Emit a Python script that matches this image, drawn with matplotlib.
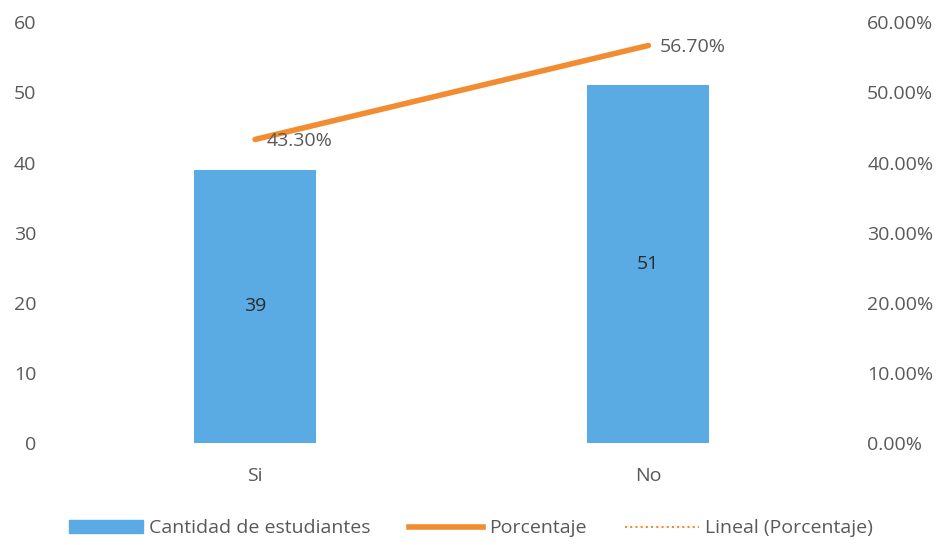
import matplotlib.pyplot as plt
import numpy as np
from matplotlib.lines import Line2D
from matplotlib.patches import Patch
from matplotlib.ticker import PercentFormatter

plt.rcParams['font.family'] = ['Open Sans', 'DejaVu Sans']

categorias = ['Si', 'No']
cantidad = [39, 51]
porcentaje = [43.3, 56.7]

azul = '#5aabe3'
naranja = '#f28c30'
gris = '#595959'

fig = plt.figure(figsize=(9.42, 5.45), dpi=100)
ax = fig.add_axes([0.062, 0.187, 0.835, 0.772])
x = np.arange(len(categorias))

ax.bar(x, cantidad, width=0.31, color=azul, zorder=2)
for xi, v in zip(x, cantidad):
    ax.text(xi, v / 2, str(v), ha='center', va='center', fontsize=14, color='#2b2b2b')

ax.set_xlim(-0.5, 1.5)
ax.set_ylim(0, 60)
ax.set_yticks(range(0, 61, 10))
ax.set_xticks(x)
ax.set_xticklabels(categorias)

ax2 = ax.twinx()
ax2.plot(x, porcentaje, color=naranja, lw=4, solid_capstyle='round', zorder=3)
# linea de tendencia (coincide con la serie al tener dos puntos)
coef = np.polyfit(x, porcentaje, 1)
ax2.plot(x, np.polyval(coef, x), color=naranja, lw=1.5, ls=(0, (1, 1.5)), zorder=2)
ax2.set_ylim(0, 60)
ax2.set_yticks(range(0, 61, 10))
ax2.yaxis.set_major_formatter(PercentFormatter(decimals=2))
for xi, p in zip(x, porcentaje):
    ax2.annotate(f'{p:.2f}%', (xi, p), xytext=(8, -1), textcoords='offset points',
                 ha='left', va='center', fontsize=14, color=gris)

for a in (ax, ax2):
    for s in a.spines.values():
        s.set_visible(False)
    a.tick_params(length=0, labelsize=14, colors=gris, pad=16)
ax.tick_params(axis='x', pad=17)

handles = [Patch(color=azul),
           Line2D([], [], color=naranja, lw=4),
           Line2D([], [], color=naranja, lw=1.5, ls=(0, (1, 1.5)))]
labels = ['Cantidad de estudiantes', 'Porcentaje', 'Lineal (Porcentaje)']
fig.legend(handles, labels, loc='lower center', bbox_to_anchor=(0.5, -0.018), ncol=3,
           frameon=False, fontsize=14, labelcolor=gris, handlelength=3.8,
           columnspacing=2.0, handletextpad=0.3)

fig.savefig('out.png', dpi=100)
